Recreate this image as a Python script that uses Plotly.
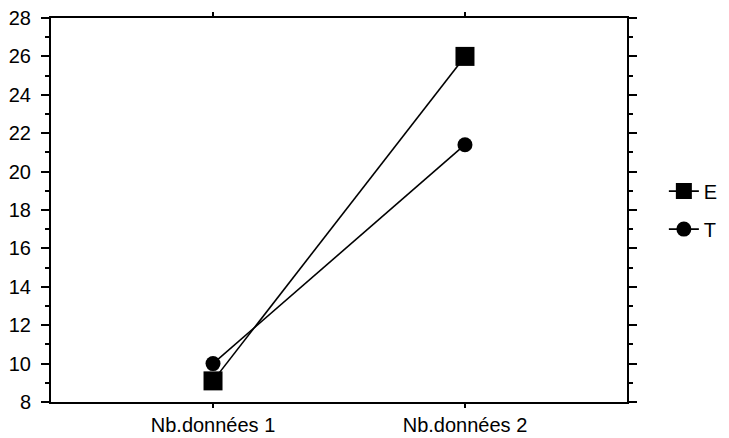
import plotly.graph_objects as go

categories = ["Nb.données 1", "Nb.données 2"]
series_e = [9.1, 26.0]
series_t = [10.0, 21.4]
y_ticks = [8, 10, 12, 14, 16, 18, 20, 22, 24, 26, 28]

font = dict(family="Liberation Sans, Arial, sans-serif", size=20, color="black")
positions = list(range(len(categories)))

fig = go.Figure()
fig.add_trace(go.Scatter(
    x=positions, y=series_e, name="E", mode="lines+markers",
    legendgroup="E",
    line=dict(color="black", width=1.6),
    marker=dict(symbol="square", size=19, color="black"),
))
fig.add_trace(go.Scatter(
    x=positions, y=series_t, name="T", mode="lines+markers",
    legendgroup="T",
    line=dict(color="black", width=1.6),
    marker=dict(symbol="circle", size=15, color="black"),
))

fig.update_layout(
    width=729, height=438,
    margin=dict(l=51, r=102, t=18, b=36, autoexpand=False),
    paper_bgcolor="white", plot_bgcolor="white",
    font=font,
    showlegend=True,
    legend=dict(
        x=1.064, y=0.60, xanchor="left", yanchor="top",
        font=dict(size=20), tracegroupgap=9,
        traceorder="grouped", itemsizing="trace",
        bgcolor="rgba(0,0,0,0)",
    ),
)
fig.update_xaxes(
    range=[-0.643, 1.643], automargin=False,
    tickmode="array", tickvals=positions, ticktext=categories,
    showgrid=False, zeroline=False,
    showline=True, linecolor="black", linewidth=2, mirror="ticks",
    ticks="outside", ticklen=4, tickwidth=1.5, tickcolor="black",
)
fig.update_yaxes(
    range=[8, 28], automargin=False,
    tickmode="array", tickvals=y_ticks,
    showgrid=False, zeroline=False,
    showline=True, linecolor="black", linewidth=2, mirror="ticks",
    ticks="outside", ticklen=8, tickwidth=2, tickcolor="black",
    ticklabelstandoff=6,
    minor=dict(dtick=1, tick0=8, ticks="outside", ticklen=4, tickwidth=2,
               tickcolor="black", showgrid=False),
)

fig.write_html("out.html")
